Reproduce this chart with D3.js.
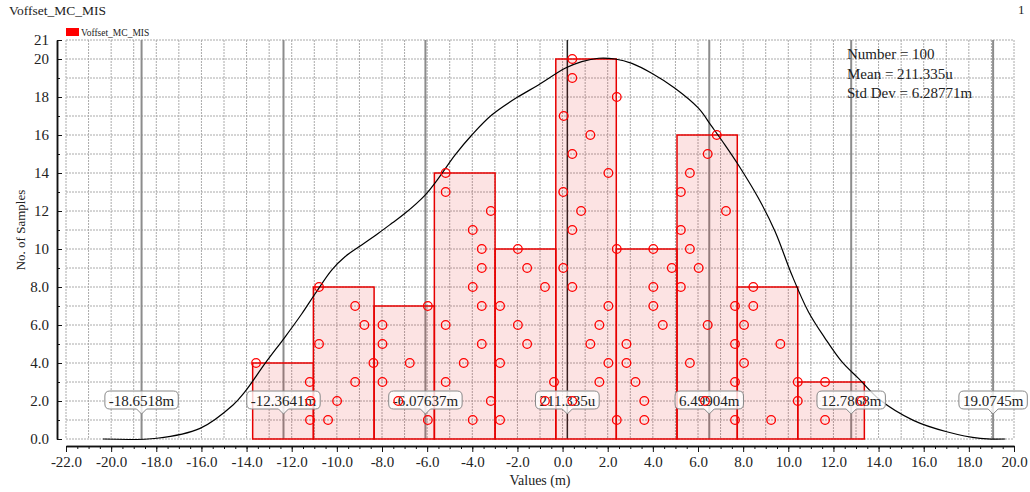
<!DOCTYPE html>
<html>
<head>
<meta charset="utf-8">
<script src="https://cdn.jsdelivr.net/npm/d3@7"></script>
<style>
body { margin: 0; background: #fff; }
svg { font-family: "Liberation Serif", "DejaVu Serif", serif; }
</style>
</head>
<body>
<script>
// histogram bins (values in m)
const binEdges = [-13.73, -11.04, -8.35, -5.68, -2.99, -0.30, 2.38, 5.07, 7.74, 10.42, 13.37];
const binCounts = [4, 8, 7, 14, 10, 20, 10, 16, 8, 3];

// sample points per bin, stacked from level 1 upward
const binSamples = [
    [-11.19, -11.17, -11.2, -13.58],
    [-10.39, -9.99, -9.19, -8.38, -10.79, -8.78, -9.19, -10.79],
    [-5.97, -7.28, -7.98, -6.77, -7.98, -7.98, -5.97],
    [-3.98, -3.18, -5.18, -4.38, -3.58, -5.18, -3.58, -3.98, -3.58, -3.58, -3.98, -3.18, -5.18, -5.18],
    [-2.77, -0.78, -0.38, -2.77, -1.57, -1.98, -2.77, -0.78, -1.57, -1.98],
    [2.40, 0.43, 1.63, 2.03, 1.23, 1.63, 2.03, 0.43, 0.03, 2.40, 0.43, 0.82, 0.03, 2.03, 0.43, 1.23, 0.05, 2.40, 0.43, 0.43],
    [3.62, 3.62, 3.23, 2.83, 2.83, 4.44, 4.02, 4.02, 4.84, 4.02],
    [7.64, 6.31, 7.64, 5.64, 7.64, 6.43, 7.64, 5.24, 6.03, 5.64, 5.24, 7.24, 5.24, 5.64, 6.43, 6.83],
    [9.24, 10.42, 10.42, 8.04, 9.65, 8.04, 8.45, 8.45],
    [11.63, 13.25, 11.63]
];

// density curve
const curveX = [-20.36, -17.97, -16.06, -14.60, -14.07, -13.18, -12.29, -11.56, -10.97, -10.23, -9.64, -8.90, -8.16, -7.57, -6.98,
    -6.09, -5.50, -4.76, -4.02, -3.14, -1.96, -1.07, 0.11, 0.85, 1.59, 2.33, 3.07, 3.95, 4.98, 6.02, 6.61, 7.20, 7.79, 8.68,
    9.42, 10.16, 10.89, 11.63, 12.37, 13.11, 14.07, 15.54, 17.02, 18.50, 19.61];
const curveY = [0, 0.04, 0.56, 1.79, 2.49, 3.98, 5.38, 6.58, 7.63, 8.89, 9.59, 10.21, 10.83, 11.35, 11.88,
    12.84, 13.72, 14.95, 16.0, 17.05, 18.02, 18.63, 19.51, 19.86, 20.04, 20.0, 19.77, 19.25, 18.46, 17.41, 16.45, 15.47, 14.42, 12.67,
    10.91, 8.63, 6.7, 5.3, 4.07, 3.19, 2.05, 0.98, 0.38, 0.03, 0];

const markerValues = [-18.6518, -12.3641, -6.07637, 0.211335, 6.49904, 12.7868, 19.0745];
const markerLabels = ["-18.6518m", "-12.3641m", "-6.07637m", "211.335u", "6.49904m", "12.7868m", "19.0745m"];

const xTickValues = d3.range(-22, 20.01, 2);
const yTickValues = [0, 2, 4, 6, 8, 10, 12, 14, 16, 18, 20, 21];
const statLines = ["Number = 100", "Mean = 211.335u", "Std Dev = 6.28771m"];

const outerWidth = 1030;
const outerHeight = 492;
const margin = {top: 40, left: 66, bottom: 53, right: 16};
const width = outerWidth - margin.left - margin.right;
const height = outerHeight - margin.top - margin.bottom;

const svg = d3.select('body')
    .append('svg')
    .attr('width', outerWidth)
    .attr('height', outerHeight);

const chart = svg.append('g')
    .attr('transform', `translate(${margin.left}, ${margin.top})`);

let xScale = d3.scaleLinear().domain([-22, 20]).range([0, width]);
let yScale = d3.scaleLinear().domain([0, 21]).range([height, 0]);

// grid
chart.append('g').selectAll('line')
    .data(d3.range(-22, 21))
    .join('line')
    .attr('x1', d => xScale(d)).attr('x2', d => xScale(d))
    .attr('y1', 0).attr('y2', height)
    .attr('stroke', '#aaa').attr('stroke-dasharray', '2,1');
chart.append('g').selectAll('line')
    .data(d3.range(0, 22))
    .join('line')
    .attr('x1', 0).attr('x2', width)
    .attr('y1', d => yScale(d)).attr('y2', d => yScale(d))
    .attr('stroke', '#aaa').attr('stroke-dasharray', '2,1');

// marker lines
chart.append('g').selectAll('line')
    .data(markerValues)
    .join('line')
    .attr('x1', d => xScale(d)).attr('x2', d => xScale(d))
    .attr('y1', 0).attr('y2', height)
    .attr('stroke', (d, i) => i == 3 ? '#222' : '#8c8c8c')
    .attr('stroke-width', (d, i) => i == 3 ? 1.5 : 2);

// bars
chart.append('g').selectAll('rect')
    .data(binCounts)
    .join('rect')
    .attr('x', (d, i) => xScale(binEdges[i]))
    .attr('width', (d, i) => xScale(binEdges[i + 1]) - xScale(binEdges[i]))
    .attr('y', d => yScale(d))
    .attr('height', d => height - yScale(d))
    .attr('fill', 'rgba(230,0,0,0.11)')
    .attr('stroke', '#e60000')
    .attr('stroke-width', 1.5);

// density curve
const line = d3.line()
    .x(d => xScale(d[0]))
    .y(d => yScale(d[1]))
    .curve(d3.curveCatmullRom);
chart.append('path')
    .datum(curveX.map((x, i) => [x, curveY[i]]))
    .attr('d', line)
    .attr('fill', 'none')
    .attr('stroke', '#000')
    .attr('stroke-width', 1.2);

// callouts
function calloutPath(cx, top, w, h, r, tip) {
    const l = cx - w / 2, rt = cx + w / 2, b = top + h;
    return `M${l + r},${top} H${rt - r} Q${rt},${top} ${rt},${top + r} V${b - r} Q${rt},${b} ${rt - r},${b} ` +
        `H${cx + 5} L${cx},${b + tip} L${cx - 5},${b} H${l + r} Q${l},${b} ${l},${b - r} V${top + r} Q${l},${top} ${l + r},${top} Z`;
}
markerValues.forEach((v, i) => {
    const g = chart.append('g');
    const path = g.append('path');
    const txt = g.append('text')
        .attr('x', xScale(v))
        .attr('y', yScale(2) + 5)
        .attr('text-anchor', 'middle')
        .attr('font-size', 15)
        .attr('fill', '#222')
        .text(markerLabels[i]);
    const w = txt.node().getComputedTextLength() + 8;
    path.attr('d', calloutPath(xScale(v), yScale(2) - 10, w, 18, 5, 5))
        .attr('fill', 'rgba(255,255,255,0.8)')
        .attr('stroke', '#888')
        .attr('stroke-width', 1);
});

// sample circles
const points = [];
binSamples.forEach(arr => arr.forEach((x, j) => points.push([x, j + 1])));
chart.append('g').selectAll('circle')
    .data(points)
    .join('circle')
    .attr('cx', d => xScale(d[0]))
    .attr('cy', d => yScale(d[1]))
    .attr('r', 4.3)
    .attr('fill', 'none')
    .attr('stroke', '#ff0000')
    .attr('stroke-width', 1.3);

// axes
const xMinor = d3.axisBottom(xScale)
    .tickValues(d3.range(-22, 20.01, 0.5))
    .tickSize(3).tickSizeOuter(0).tickFormat('');
const xAxis = d3.axisBottom(xScale)
    .tickValues(xTickValues)
    .tickSize(6).tickSizeOuter(0).tickPadding(4)
    .tickFormat(d => d.toFixed(1));
chart.append('g')
    .attr('class', 'axis x-axis')
    .attr('transform', `translate(0, ${height + 7})`)
    .call(xMinor);
chart.append('g')
    .attr('class', 'axis x-axis')
    .attr('transform', `translate(0, ${height + 7})`)
    .call(xAxis);

const yMinor = d3.axisLeft(yScale)
    .tickValues(d3.range(0, 22))
    .tickSize(-3).tickSizeOuter(0).tickFormat('');
const yAxis = d3.axisLeft(yScale)
    .tickValues(yTickValues)
    .tickSize(-5).tickSizeOuter(0).tickPadding(8)
    .tickFormat(d => d >= 10 ? d : d.toFixed(1));
chart.append('g')
    .attr('class', 'axis y-axis')
    .attr('transform', 'translate(-9, 0)')
    .call(yMinor);
chart.append('g')
    .attr('class', 'axis y-axis')
    .attr('transform', 'translate(-9, 0)')
    .call(yAxis);

svg.selectAll('.axis path').attr('stroke', '#111').attr('stroke-width', 1.5);
svg.selectAll('.axis line').attr('stroke', '#111');
svg.selectAll('.axis text')
    .attr('font-size', 15)
    .attr('font-family', '"Liberation Serif", serif')
    .attr('fill', '#222');

// axis titles
svg.append('text')
    .attr('x', margin.left + width / 2)
    .attr('y', 485)
    .attr('text-anchor', 'middle')
    .attr('font-size', 14)
    .attr('fill', '#222')
    .text('Values (m)');
svg.append('text')
    .attr('transform', 'translate(25, 230) rotate(-90)')
    .attr('text-anchor', 'middle')
    .attr('font-size', 13)
    .attr('fill', '#222')
    .text('No. of Samples');

// title, page number, legend
svg.append('text')
    .attr('x', 9).attr('y', 15)
    .attr('font-size', 13.5)
    .attr('fill', '#222')
    .text('Voffset_MC_MIS');
svg.append('text')
    .attr('x', 1018).attr('y', 14)
    .attr('font-size', 13)
    .attr('fill', '#222')
    .text('1');
svg.append('rect')
    .attr('x', 66).attr('y', 28)
    .attr('width', 13).attr('height', 8)
    .attr('fill', '#ff0000');
svg.append('text')
    .attr('x', 81).attr('y', 36)
    .attr('font-size', 9.5)
    .attr('fill', '#222')
    .text('Voffset_MC_MIS');

// stats
svg.append('g').selectAll('text')
    .data(statLines)
    .join('text')
    .attr('x', 847)
    .attr('y', (d, i) => 59 + i * 19.5)
    .attr('font-size', 15)
    .attr('fill', '#222')
    .text(d => d);
</script>
</body>
</html>
